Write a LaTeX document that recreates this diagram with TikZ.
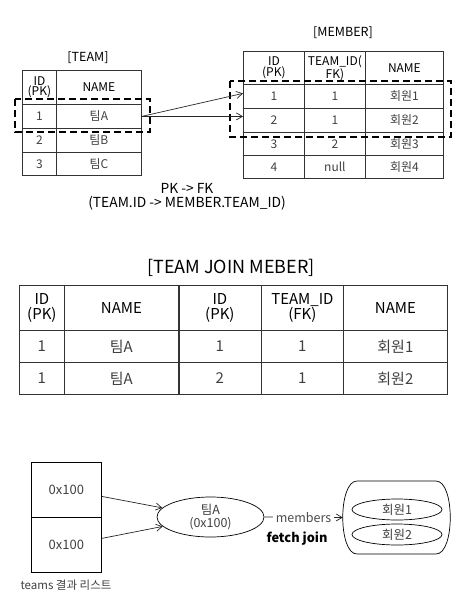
\documentclass[tikz,border=0pt]{standalone}
\usepackage{fontspec}
\setmainfont{Noto Sans CJK KR}
\usetikzlibrary{arrows.meta,shapes.geometric}
\definecolor{celltext}{HTML}{404040}
\definecolor{rule}{HTML}{333333}
\begin{document}
\begin{tikzpicture}[x=1pt,y=-1pt,
  >={Straight Barb[length=6pt,width=7pt]},
  cell/.style={draw=rule, line width=0.8pt, anchor=north west, inner sep=0pt,
    align=center, text=celltext},
  head/.style={cell, text=black},
  small/.style={font=\fontsize{12}{10.5}\selectfont},
  big/.style={font=\fontsize{15}{15}\selectfont},
  hilite/.style={draw=black, line width=1.4pt, dash pattern=on 7pt off 4pt},
  arr/.style={->, draw=black!85, line width=0.7pt},
  bubble/.style={ellipse, draw=black, line width=0.7pt, inner sep=0pt,
    text=celltext, align=center}]
\useasboundingbox (0,0) rectangle (464,609);

% ---------- TEAM table ----------
\node[font=\fontsize{12.5}{12}\selectfont] (teamtitle) at (88,58) {[TEAM]};
\begin{scope}[small]
\node[head, minimum width=34pt, minimum height=34pt] (t-hid) at (22,70) {ID\\(PK)};
\node[head, minimum width=85pt, minimum height=34pt] (t-hn) at (56,70) {NAME};
\node[cell, minimum width=34pt, minimum height=24pt] (t-1id) at (22,104) {1};
\node[cell, minimum width=85pt, minimum height=24pt] (t-1n) at (56,104) {팀A};
\node[cell, minimum width=34pt, minimum height=24pt] (t-2id) at (22,128) {2};
\node[cell, minimum width=85pt, minimum height=24pt] (t-2n) at (56,128) {팀B};
\node[cell, minimum width=34pt, minimum height=23pt] (t-3id) at (22,152) {3};
\node[cell, minimum width=85pt, minimum height=23pt] (t-3n) at (56,152) {팀C};
\end{scope}
\draw[hilite] (15,99) rectangle (150,132);

% ---------- MEMBER table ----------
\node[font=\fontsize{12.5}{12}\selectfont] (membertitle) at (343,33) {[MEMBER]};
\begin{scope}[small]
\node[head, minimum width=61pt, minimum height=33pt] (m-hid) at (243,51) {ID\\(PK)};
\node[head, minimum width=61pt, minimum height=33pt] (m-hfk) at (304,51) {TEAM\_ID(\\FK)};
\node[head, minimum width=78pt, minimum height=33pt] (m-hn) at (365,51) {NAME};
\node[cell, minimum width=61pt, minimum height=24pt] (m-1id) at (243,84) {1};
\node[cell, minimum width=61pt, minimum height=24pt] (m-1fk) at (304,84) {1};
\node[cell, minimum width=78pt, minimum height=24pt] (m-1n) at (365,84) {회원1};
\node[cell, minimum width=61pt, minimum height=24pt] (m-2id) at (243,108) {2};
\node[cell, minimum width=61pt, minimum height=24pt] (m-2fk) at (304,108) {1};
\node[cell, minimum width=78pt, minimum height=24pt] (m-2n) at (365,108) {회원2};
\node[cell, minimum width=61pt, minimum height=23pt] (m-3id) at (243,132) {3};
\node[cell, minimum width=61pt, minimum height=23pt] (m-3fk) at (304,132) {2};
\node[cell, minimum width=78pt, minimum height=23pt] (m-3n) at (365,132) {회원3};
\node[cell, minimum width=61pt, minimum height=23pt] (m-4id) at (243,155) {4};
\node[cell, minimum width=61pt, minimum height=23pt] (m-4fk) at (304,155) {null};
\node[cell, minimum width=78pt, minimum height=23pt] (m-4n) at (365,155) {회원4};
\end{scope}
\draw[hilite] (230,81) rectangle (451,137);

% references from team 1 to its members
\draw[arr] (t-1n.east) -- ([yshift=3pt]m-1id.west);
\draw[arr] (t-1n.east) -- ([yshift=4pt]m-2id.west);

\node[align=center, font=\fontsize{13.8}{14}\selectfont] (fknote) at (187,197)
  {PK -> FK\\(TEAM.ID -> MEMBER.TEAM\_ID)};

% ---------- joined result ----------
\node[font=\fontsize{18}{18}\selectfont] (jointitle) at (231,268) {[TEAM JOIN MEBER]};
\begin{scope}[big]
\node[head, minimum width=45pt, minimum height=45pt] (j-h1) at (19,285) {ID\\(PK)};
\node[head, minimum width=114pt, minimum height=45pt] (j-h2) at (64,285) {NAME};
\node[head, minimum width=83pt, minimum height=45pt] (j-h3) at (178,285) {ID\\(PK)};
\node[head, minimum width=82pt, minimum height=45pt] (j-h4) at (261,285) {TEAM\_ID\\(FK)};
\node[head, minimum width=104pt, minimum height=45pt] (j-h5) at (343,285) {NAME};
\node[cell, minimum width=45pt, minimum height=32pt] (j-11) at (19,330) {1};
\node[cell, minimum width=114pt, minimum height=32pt] (j-12) at (64,330) {팀A};
\node[cell, minimum width=83pt, minimum height=32pt] (j-13) at (178,330) {1};
\node[cell, minimum width=82pt, minimum height=32pt] (j-14) at (261,330) {1};
\node[cell, minimum width=104pt, minimum height=32pt] (j-15) at (343,330) {회원1};
\node[cell, minimum width=45pt, minimum height=32pt] (j-21) at (19,362) {1};
\node[cell, minimum width=114pt, minimum height=32pt] (j-22) at (64,362) {팀A};
\node[cell, minimum width=83pt, minimum height=32pt] (j-23) at (178,362) {2};
\node[cell, minimum width=82pt, minimum height=32pt] (j-24) at (261,362) {1};
\node[cell, minimum width=104pt, minimum height=32pt] (j-25) at (343,362) {회원2};
\end{scope}
% seam between the TEAM part and the MEMBER part
\draw[rule, line width=2.2pt] (j-h2.north east) -- (j-22.south east);

% ---------- object graph after fetch join ----------
\begin{scope}[font=\fontsize{13}{13}\selectfont]
\node[cell, draw=black, minimum width=70pt, minimum height=55pt] (l1) at (31,462) {0x100};
\node[cell, draw=black, minimum width=70pt, minimum height=55pt] (l2) at (31,517) {0x100};
\node[bubble, minimum width=107pt, minimum height=40pt, font=\fontsize{12.5}{13}\selectfont]
  (tA) at (210.5,517) {팀A\\(0x100)};
\node[minimum width=107pt, minimum height=73pt, inner sep=0pt] (mbox) at (396.5,517.5) {};
\node[bubble, minimum width=90pt, minimum height=21pt, font=\fontsize{12.5}{13}\selectfont]
  (m1) at (397,509.5) {회원1};
\node[bubble, minimum width=90pt, minimum height=21pt, font=\fontsize{12.5}{13}\selectfont]
  (m2) at (397,534.5) {회원2};
\end{scope}
\draw[black, line width=0.7pt]
  (357,481) -- (436,481) .. controls (455,481) and (455,554) .. (436,554)
  -- (357,554) .. controls (338,554) and (338,481) .. (357,481) -- cycle;

\node[text=celltext, font=\fontsize{11.5}{12}\selectfont] (listlabel) at (66,585) {teams 결과 리스트};

\draw[arr] ([yshift=-6.5pt]l1.east) -- (tA);
\draw[arr] ([yshift=6.5pt]l2.east) -- (tA);
\draw[arr] (tA.east) -- node[fill=white, text=black!70, inner sep=3pt,
  font=\fontsize{12.5}{13}\selectfont] (memberslabel) {members} (mbox.west);
\node[font=\bfseries\fontsize{12.8}{14}\selectfont] (fetchlabel) at (297,539) {fetch join};

\end{tikzpicture}
\end{document}
